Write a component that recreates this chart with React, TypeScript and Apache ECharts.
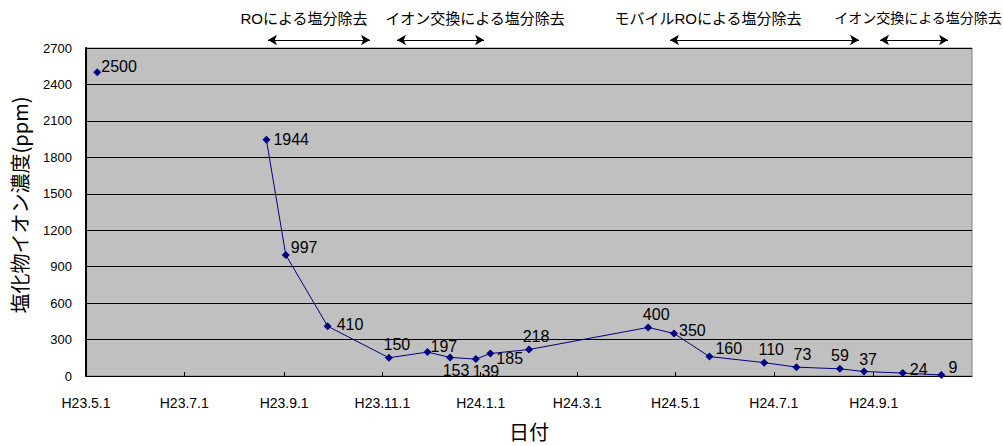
import React, { useEffect, useRef } from "react";
import * as echarts from "echarts";

// Data
const sampleDates = [
  "2011-05-08", "2011-08-21", "2011-09-02", "2011-09-28", "2011-11-05",
  "2011-11-29", "2011-12-13", "2011-12-29", "2012-01-07", "2012-01-31",
  "2012-04-14", "2012-04-30", "2012-05-22", "2012-06-25", "2012-07-15",
  "2012-08-11", "2012-08-26", "2012-09-19", "2012-10-13",
];
const chlorideValues = [
  2500, 1944, 997, 410, 150, 197, 153, 139, 185, 218,
  400, 350, 160, 110, 73, 59, 37, 24, 9,
];
// index after which the line is broken
const lineBreakAfter = 0;

const tickDates = [
  "2011-05-01", "2011-07-01", "2011-09-01", "2011-11-01", "2012-01-01",
  "2012-03-01", "2012-05-01", "2012-07-01", "2012-09-01",
];
const tickLabels = [
  "H23.5.1", "H23.7.1", "H23.9.1", "H23.11.1", "H24.1.1",
  "H24.3.1", "H24.5.1", "H24.7.1", "H24.9.1",
];
const axisMinDate = "2011-05-01";
const axisMaxDate = "2012-11-01";

const annotationTexts = [
  "ROによる塩分除去",
  "イオン交換による塩分除去",
  "モバイルROによる塩分除去",
  "イオン交換による塩分除去",
];

// Styling (label placement per point)
const labelPos = [
  "right", "right", "right", "right", "top", "right", "bottom", "bottom", "right", "top",
  "top", "right", "right", "top", "top", "top", "top", "right", "right",
];
const labelOffset: number[][] = [
  [-3, -6], [0, 0], [-2, -7], [2, -2], [8, 2], [-4, -6], [6, -2], [10, -3], [-1, 5], [7, 2],
  [8, 2], [-2, -3], [-1, -8], [7, 2], [6, 2], [0, 2], [4, 3], [0, -4], [0, -7],
];
const annoTextX = [304, 475, 708, 918];
const annoFontSize = [15, 15, 15, 14];
const annoArrow = [
  [268, 370],
  [397, 484],
  [670, 859],
  [880, 948],
];

const DAY = 86400000;
// days since epoch (UTC based, avoids DST issues)
function dayNum(s: string): number {
  const [y, m, d] = s.split("-").map(Number);
  return Date.UTC(y, m - 1, d) / DAY;
}

export default function App() {
  const ref = useRef<HTMLDivElement>(null);

  useEffect(() => {
    if (!ref.current) return;
    const chart = echarts.init(ref.current, null, { renderer: "svg" });
    const tickVals = tickDates.map(dayNum);

    const makePoint = (i: number) => ({
      value: [dayNum(sampleDates[i]), chlorideValues[i]],
      label: {
        show: true,
        position: labelPos[i] as any,
        offset: labelOffset[i],
        distance: 3,
      },
    });
    const seg1 = sampleDates.slice(0, lineBreakAfter + 1).map((_, i) => makePoint(i));
    const seg2 = sampleDates
      .slice(lineBreakAfter + 1)
      .map((_, j) => makePoint(j + lineBreakAfter + 1));

    const lineStyleCommon = {
      type: "line" as const,
      symbol: "diamond",
      symbolSize: 8,
      itemStyle: { color: "#000080" },
      lineStyle: { color: "#000080", width: 1 },
      label: {
        color: "#000",
        fontSize: 16,
        fontFamily: "Liberation Sans, Arial, sans-serif",
      },
      emphasis: { disabled: true },
    };

    chart.setOption({
      animation: false,
      backgroundColor: "#fff",
      grid: {
        left: 86,
        right: 31,
        top: 48,
        bottom: 70,
        show: true,
        backgroundColor: "#c0c0c0",
        borderColor: "#808080",
        borderWidth: 1,
        outerBoundsMode: "none",
        containLabel: false,
      },
      xAxis: {
        type: "value",
        min: dayNum(axisMinDate),
        max: dayNum(axisMaxDate),
        name: "日付",
        nameLocation: "middle",
        nameGap: 45,
        nameTextStyle: {
          fontSize: 20,
          color: "#000",
          fontFamily: "Noto Sans CJK JP, sans-serif",
        },
        axisLine: { show: true, lineStyle: { color: "#000", width: 1 } },
        axisTick: {
          show: true,
          inside: true,
          length: 4,
          lineStyle: { color: "#000" },
          customValues: tickVals,
        },
        axisLabel: {
          customValues: tickVals,
          margin: 20,
          fontSize: 14,
          color: "#000",
          fontFamily: "Liberation Sans, Arial, sans-serif",
          formatter: (v: number) => {
            let best = 0;
            let bd = Infinity;
            tickVals.forEach((t, i) => {
              const dd = Math.abs(t - v);
              if (dd < bd) {
                bd = dd;
                best = i;
              }
            });
            return tickLabels[best];
          },
        },
        splitLine: { show: false },
      },
      yAxis: {
        type: "value",
        min: 0,
        max: 2700,
        interval: 300,
        name: "塩化物イオン濃度(ppm)",
        nameLocation: "middle",
        nameGap: 57,
        nameRotate: 90,
        nameTextStyle: {
          fontSize: 20,
          color: "#000",
          fontFamily: "Noto Sans CJK JP, sans-serif",
          padding: [0, 0, 0, 14],
        },
        axisLine: { show: true, lineStyle: { color: "#000", width: 2 } },
        axisTick: { show: false },
        axisLabel: {
          margin: 14,
          fontSize: 13,
          color: "#000",
          fontFamily: "Liberation Sans, Arial, sans-serif",
          formatter: (v: number) => String(v),
        },
        splitLine: { show: true, lineStyle: { color: "#000", width: 1 } },
      },
      series: [
        { ...lineStyleCommon, name: "s1", data: seg1 },
        {
          ...lineStyleCommon,
          name: "s2",
          data: seg2,
          markLine: {
            silent: true,
            symbol: ["arrow", "arrow"],
            symbolSize: [8, 9],
            label: { show: false },
            lineStyle: { color: "#000", width: 1, type: "solid" },
            emphasis: { disabled: true },
            data: annoArrow.map(([x1, x2]) => [
              { x: x1, y: 40 },
              { x: x2, y: 40 },
            ]),
          },
        },
      ],
      graphic: annotationTexts.map((t, i) => ({
        type: "text",
        x: annoTextX[i],
        y: 18,
        style: {
          text: t,
          fontSize: annoFontSize[i],
          fill: "#000",
          fontFamily: "Liberation Sans, Noto Sans CJK JP, sans-serif",
          align: "center",
          verticalAlign: "middle",
        },
      })),
    });

    return () => chart.dispose();
  }, []);

  return (
    <div
      ref={ref}
      style={{
        position: "fixed",
        left: 0,
        top: 0,
        width: 1003,
        height: 446,
        background: "#fff",
      }}
    />
  );
}
